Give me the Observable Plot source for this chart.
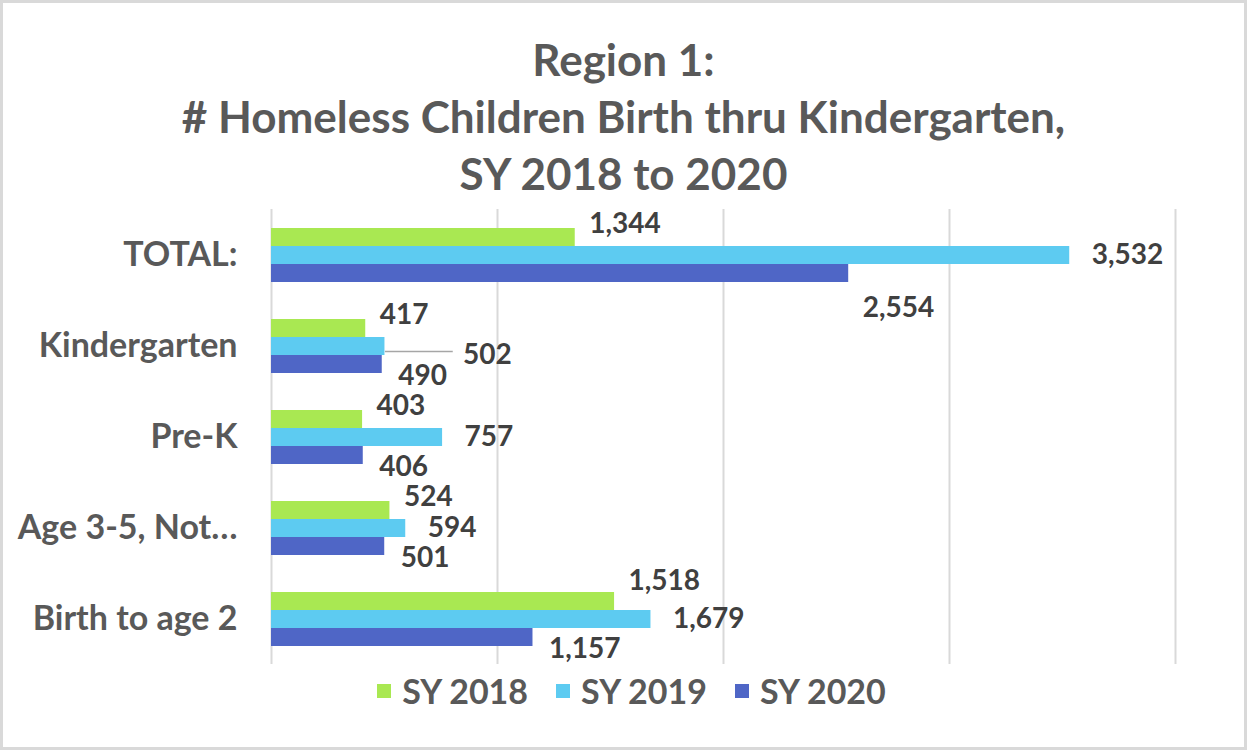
<!DOCTYPE html>
<html>
<head>
<meta charset="utf-8">
<script src="https://cdn.jsdelivr.net/npm/d3@7"></script>
<script src="https://cdn.jsdelivr.net/npm/@observablehq/plot@0.6"></script>
<style>
  html, body { margin: 0; padding: 0; background: #fff; }
  #page { position: relative; width: 1247px; height: 750px; overflow: hidden; font-family: Lato, "Open Sans", sans-serif; }
  #frame { position: absolute; left: 0; top: 0; width: 1247px; height: 750px; box-sizing: border-box; border: 3px solid #d9d9d9; pointer-events: none; }
  #title { position: absolute; left: 0; top: 31px; width: 1247px; text-align: center; color: #595959; font-weight: bold; font-size: 44px; line-height: 57px; }
  #chart { position: absolute; left: 0; top: 0; }
  #legend { position: absolute; left: 0; top: 670px; width: 1247px; display: flex; justify-content: center; align-items: center; color: #595959; font-weight: bold; font-size: 34px; padding-left: 16px; box-sizing: border-box; }
  .item { display: flex; align-items: center; margin: 0 14px; }
  .sw { width: 14px; height: 14px; margin-right: 11px; }
</style>
</head>
<body>
<div id="page">
  <div id="chart"></div>
  <div id="title">Region 1:<br># Homeless Children Birth thru Kindergarten,<br>SY 2018 to 2020</div>
  <div id="legend"></div>
  <div id="frame"></div>
</div>
<script>
const categories = ["TOTAL:", "Kindergarten", "Pre-K", "Age 3-5, Not…", "Birth to age 2"];
const series = ["SY 2018", "SY 2019", "SY 2020"];
const sy2018 = [1344, 417, 403, 524, 1518];
const sy2019 = [3532, 502, 757, 594, 1679];
const sy2020 = [2554, 490, 406, 501, 1157];
const xTicks = [0, 1000, 2000, 3000, 4000];
const colors = ["#a9e852", "#5dcbf1", "#4f66c6"];

const valuesBySeries = [sy2018, sy2019, sy2020];
const data = categories.flatMap((c, i) =>
  series.map((s, j) => ({category: c, series: s, value: valuesBySeries[j][i]}))
);

const fmt = d3.format(",");
// label placement (pixel nudges, like Excel's manually placed data labels)
const seriesOffsets = {"SY 2018": [14, -13], "SY 2019": [22, 0], "SY 2020": [16, 12]};
const labelNudge = {"Kindergarten|SY 2019": [78, 9], "TOTAL:|SY 2020": [14, 35], "Birth to age 2|SY 2018": [14, -20]};
const offsetOf = d => labelNudge[d.category + "|" + d.series] || seriesOffsets[d.series];

const labelMarks = data.map(d =>
  Plot.text([d], {
    x: "value", y: "series", fy: "category",
    text: d => fmt(d.value),
    textAnchor: "start",
    dx: offsetOf(d)[0], dy: offsetOf(d)[1],
    fill: "#404040", fontSize: 28, fontWeight: "bold"
  })
);

const leader = data.filter(d => d.category === "Kindergarten" && d.series === "SY 2019");

const chart = Plot.plot({
  width: 1247, height: 750,
  marginLeft: 271, marginRight: 72, marginTop: 207, marginBottom: 85,
  style: {fontFamily: "Lato, 'Open Sans', sans-serif", fontSize: "34px", fontWeight: "bold", color: "#595959", background: "transparent", overflow: "visible"},
  x: {domain: [0, 4000], axis: null},
  y: {domain: series, axis: null, paddingInner: 0, paddingOuter: 0.91},
  fy: {domain: categories, padding: 0, label: null, tickSize: 0, tickPadding: 34},
  color: {domain: series, range: colors},
  marks: [
    Plot.gridX(xTicks, {stroke: "#d9d9d9", strokeOpacity: 1, strokeWidth: 2}),
    Plot.barX(data, {x: "value", y: "series", fy: "category", fill: "series"}),
    Plot.link(leader, {x1: "value", x2: d => d.value + 300, y1: "series", y2: "series", fy: "category", dy: 5, stroke: "#a6a6a6", strokeWidth: 1.5}),
    ...labelMarks
  ]
});
document.getElementById("chart").appendChild(chart);

const legend = document.getElementById("legend");
series.forEach((s, i) => {
  const item = document.createElement("div");
  item.className = "item";
  const sw = document.createElement("div");
  sw.className = "sw";
  sw.style.background = colors[i];
  const t = document.createElement("span");
  t.textContent = s;
  item.appendChild(sw); item.appendChild(t);
  legend.appendChild(item);
});
</script>
</body>
</html>
